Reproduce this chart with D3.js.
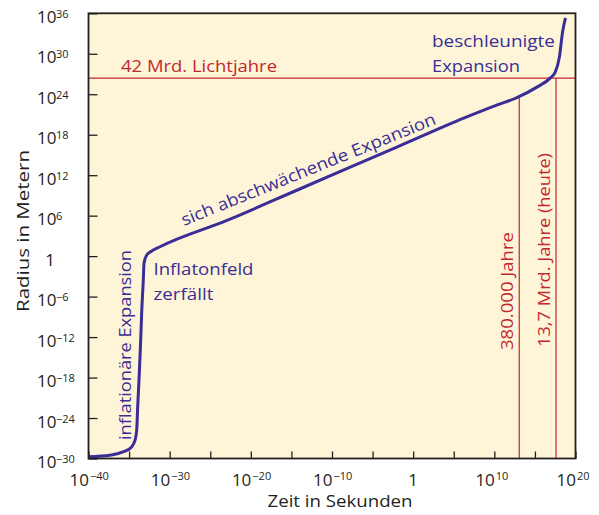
<!DOCTYPE html>
<html><head><meta charset="utf-8">
<script src="https://cdn.jsdelivr.net/npm/d3@7"></script>
<style>body{margin:0;background:#fff}svg{display:block}text{font-family:"Open Sans",sans-serif}</style>
</head><body>
<svg id="c" width="599" height="515"></svg>
<script>
// exponents (log10)
const curveLogTime   = [-40, -37.35, -35.75, -34.68, -34.27, -34.06, -33.94, -33.74, -33.57, -33.45, -33.25, -33.16, -32.83, -32.21, -31.19, -22.94, -13.91, -1.94, 6.31, 10.37, 12.71, 15.30, 16.91, 17.52, 18.02, 18.39, 18.76];
const curveLogRadius = [-29.73, -29.51, -29.02, -28.28, -27.29, -25.80, -22.35, -17.35, -12.45, -8.45, -3.55, -1.03, 0.16, 0.75, 1.39, 5.30, 9.99, 16.20, 20.49, 22.42, 23.46, 25.09, 26.43, 27.32, 29.54, 33.1, 35.33];
const xTickExps = [-40, -35, -30, -25, -20, -15, -10, -5, 0, 5, 10, 15, 20];
const xLabelExps = [-40, -30, -20, -10, 0, 10, 20];
const yTickExps = [-30, -24, -18, -12, -6, 0, 6, 12, 18, 24, 30, 36];
const horizonLogRadius = 26.4;           // 42 Mrd. Lichtjahre
const eventLogTime = [13.07, 17.6];      // 380.000 Jahre, 13,7 Mrd. Jahre
const eventLogRadius = [23.46, 26.4];
const eventLabels = ["380.000 Jahre", "13,7 Mrd. Jahre (heute)"];

const blue = "#3a2d96", red = "#c4262e", ink = "#231f20";
const svg = d3.select("#c");
const L = 88.5, R = 575.5, T = 13.3, B = 458.5;
const x = d3.scaleLinear().domain([-40, 20]).range([L, R]);
const y = d3.scaleLinear().domain([-30, 36]).range([B, T]);
const sup = e => e === 0 ? null : String(e).replace("-", "\u2212");

svg.append("rect").attr("x", L).attr("y", T).attr("width", R - L).attr("height", B - T).attr("fill", "#fef5d9");

// axes (ticks inward)
const gx = svg.append("g").attr("transform", `translate(0,${B})`)
  .call(d3.axisBottom(x).tickValues(xTickExps).tickSize(-7).tickFormat(() => ""));
const gy = svg.append("g").attr("transform", `translate(${L},0)`)
  .call(d3.axisLeft(y).tickValues(yTickExps).tickSize(-9).tickFormat(() => ""));
[gx, gy].forEach(g => { g.select(".domain").remove(); g.selectAll("line").attr("stroke", ink).attr("stroke-width", 1.3); });

// red reference lines
svg.append("line").attr("x1", L).attr("x2", R).attr("y1", y(horizonLogRadius)).attr("y2", y(horizonLogRadius))
  .attr("stroke", red).attr("stroke-width", 1.2);
eventLogTime.forEach((t, i) => {
  svg.append("line").attr("x1", x(t)).attr("x2", x(t)).attr("y1", y(eventLogRadius[i])).attr("y2", B)
    .attr("stroke", red).attr("stroke-width", 1.2);
});

// curve
const pts = curveLogTime.map((t, i) => [t, curveLogRadius[i]]);
svg.append("path").datum(pts)
  .attr("d", d3.line().x(d => x(d[0])).y(d => y(d[1])).curve(d3.curveMonotoneX))
  .attr("fill", "none").attr("stroke", blue).attr("stroke-width", 3).attr("stroke-linejoin", "round");

// frame
svg.append("rect").attr("x", L).attr("y", T).attr("width", R - L).attr("height", B - T)
  .attr("fill", "none").attr("stroke", ink).attr("stroke-width", 1.8);

// y labels
yTickExps.forEach(e => {
  const yy = y(e) + 9.5;
  if (e === 0) {
    svg.append("text").attr("x", 50).attr("y", yy).attr("text-anchor", "middle").attr("font-size", 17).attr("fill", ink).text("1");
  } else {
    svg.append("text").attr("x", 37).attr("y", yy).attr("font-size", 17).attr("fill", ink).text("10");
    svg.append("text").attr("x", 56).attr("y", yy - 5).attr("font-size", 11).attr("fill", ink).text(sup(e));
  }
});
// x labels
xLabelExps.forEach(e => {
  const xx = x(e), yy = 486;
  if (e === 0) {
    svg.append("text").attr("x", xx).attr("y", yy).attr("text-anchor", "middle").attr("font-size", 17).attr("fill", ink).text("1");
  } else {
    svg.append("text").attr("x", xx + 0.5).attr("y", yy).attr("text-anchor", "end").attr("font-size", 17).attr("fill", ink).text("10");
    svg.append("text").attr("x", xx + 1.5).attr("y", yy - 6).attr("font-size", 11).attr("fill", ink).text(sup(e));
  }
});

// axis titles
svg.append("text").attr("x", 340).attr("y", 507).attr("text-anchor", "middle").attr("font-size", 16).attr("fill", ink)
  .attr("textLength", 145).attr("lengthAdjust", "spacingAndGlyphs").text("Zeit in Sekunden");
svg.append("text").attr("transform", "translate(29,231) rotate(-90)").attr("text-anchor", "middle").attr("font-size", 17).attr("fill", ink)
  .attr("textLength", 162).attr("lengthAdjust", "spacingAndGlyphs").text("Radius in Metern");

// annotations
function ann(txt, tx, ty, rot, len, col) {
  svg.append("text").attr("transform", `translate(${tx},${ty}) rotate(${rot})`).attr("font-size", 17).attr("fill", col)
    .attr("textLength", len).attr("lengthAdjust", "spacingAndGlyphs").text(txt);
}
ann("42 Mrd. Lichtjahre", 121, 72, 0, 156, red);
ann("beschleunigte", 432, 47, 0, 123, blue);
ann("Expansion", 432, 71.5, 0, 88, blue);
ann("Inflatonfeld", 153.5, 275, 0, 100, blue);
ann("zerfällt", 153.5, 300, 0, 60, blue);
ann("sich abschwächende Expansion", 184, 226, -22, 273, blue);
ann("inflationäre Expansion", 130.5, 440, -90, 190, blue);
ann(eventLabels[0], 513, 350, -90, 118, red);
ann(eventLabels[1], 550, 347, -90, 194, red);
</script>
</body></html>
